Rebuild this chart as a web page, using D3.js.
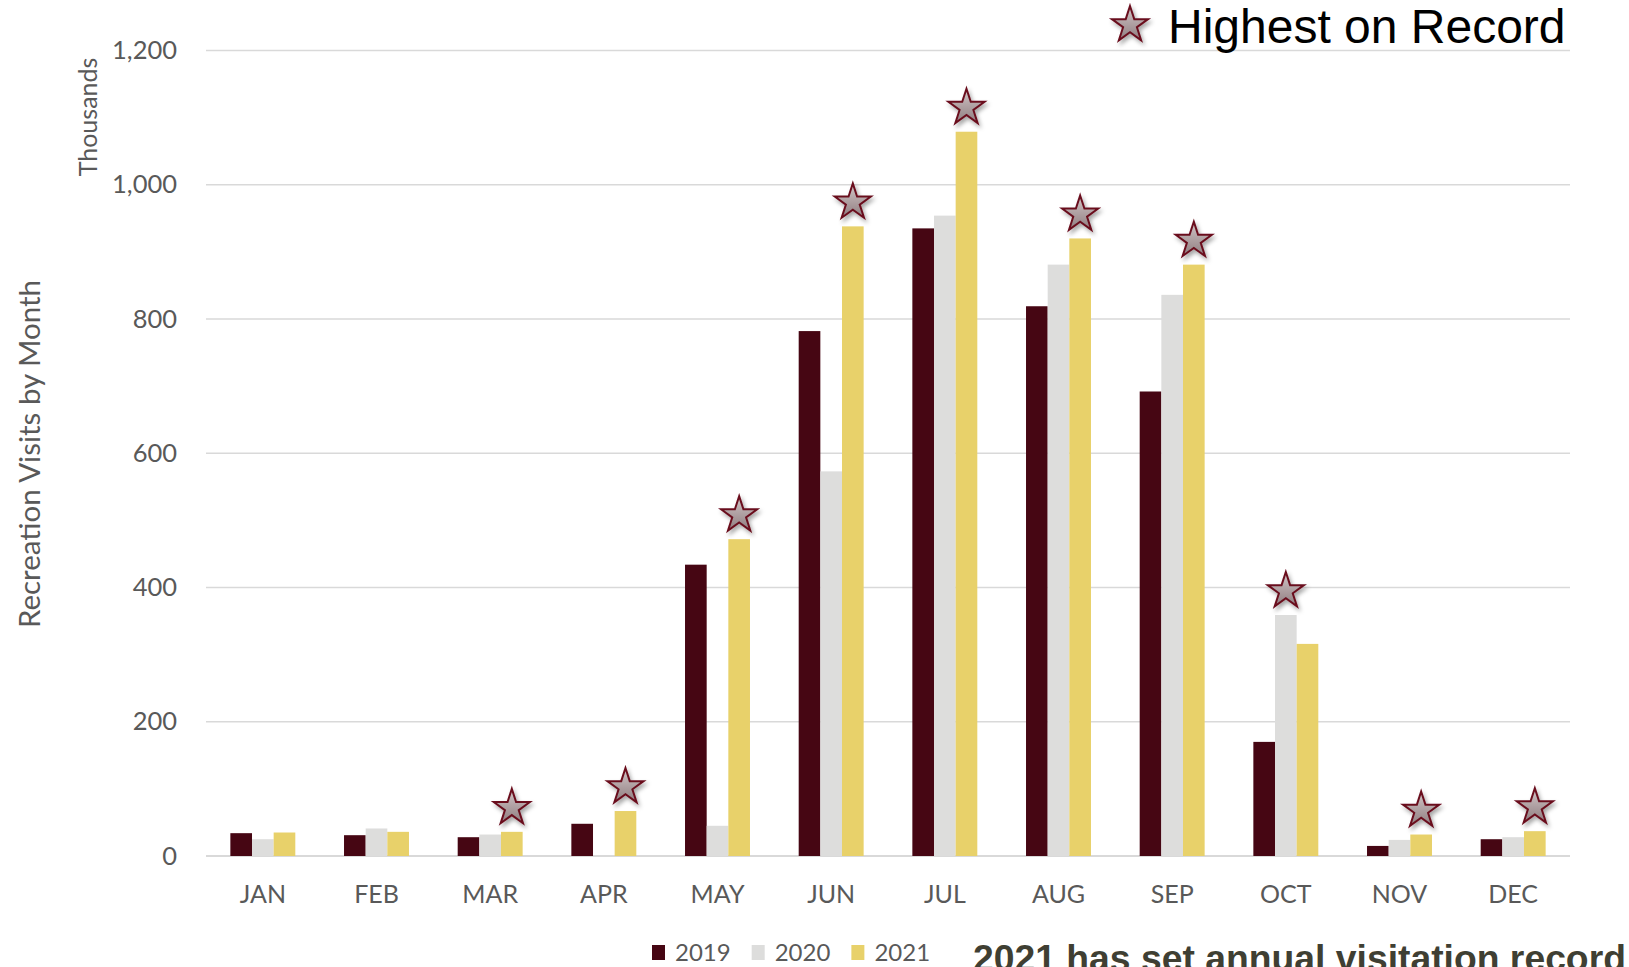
<!DOCTYPE html>
<html>
<head>
<meta charset="utf-8">
<script src="https://cdn.jsdelivr.net/npm/d3@7"></script>
<style>
  html, body { margin: 0; padding: 0; background: #ffffff; }
  svg { display: block; }
  text { font-family: Lato, "Open Sans", sans-serif; }
</style>
</head>
<body>
<svg id="chart" width="1629" height="967"></svg>
<script>
// Monthly recreation visits (thousands) for three years
const months = ["JAN", "FEB", "MAR", "APR", "MAY", "JUN", "JUL", "AUG", "SEP", "OCT", "NOV", "DEC"];
const years = ["2019", "2020", "2021"];
const visits2019 = [34, 31, 28, 48, 434, 782, 935, 819, 692, 170, 15, 25];
const visits2020 = [25, 41, 32, 0, 45, 573, 954, 881, 836, 359, 24, 28];
const visits2021 = [35, 36, 36, 67, 472, 938, 1079, 920, 881, 316, 32, 37];
// Year holding the all-time record for each month (null = no record star)
const recordYear = [null, null, "2021", "2021", "2021", "2021", "2021", "2021", "2021", "2020", "2021", "2021"];
const yTicks = [0, 200, 400, 600, 800, 1000, 1200];
const seriesColors = ["#460613", "#dddddc", "#e8d16a"];

const valuesByYear = { "2019": visits2019, "2020": visits2020, "2021": visits2021 };
const rows = months.map((m, i) => ({
  month: m,
  values: years.map(yr => ({ year: yr, value: valuesByYear[yr][i] })),
  record: recordYear[i]
}));

const svg = d3.select("#chart");
const plotLeft = 206, plotRight = 1570, plotTop = 50.5, plotBottom = 856;

const x0 = d3.scaleBand().domain(months).range([plotLeft, plotRight]).padding(0);
const step = x0.bandwidth();
const groupW = step / 1.75; // 75% gap between groups
const x1 = d3.scaleBand().domain(years).range([(step - groupW) / 2, (step + groupW) / 2]).padding(0);
const y = d3.scaleLinear().domain([0, 1200]).range([plotBottom, plotTop]);
const color = d3.scaleOrdinal().domain(years).range(seriesColors);

// Star styling: soft gradient fill, maroon outline, drop shadow
const defs = svg.append("defs");
const grad = defs.append("linearGradient").attr("id", "starFill")
  .attr("x1", 0).attr("y1", 0).attr("x2", 0).attr("y2", 1);
grad.append("stop").attr("offset", "0%").attr("stop-color", "#d2c6c7");
grad.append("stop").attr("offset", "100%").attr("stop-color", "#8f7d80");
const shadow = defs.append("filter").attr("id", "starShadow")
  .attr("x", "-50%").attr("y", "-50%").attr("width", "200%").attr("height", "200%");
shadow.append("feDropShadow").attr("dx", 2).attr("dy", 3).attr("stdDeviation", 2.2)
  .attr("flood-color", "#000").attr("flood-opacity", 0.35);

const starR = 19;
const starPath = d3.symbol().type(d3.symbolStar).size(starR * starR / 0.8908130915292852)();

// Gridlines
svg.append("g").selectAll("line").data(yTicks).join("line")
  .attr("x1", plotLeft).attr("x2", plotRight)
  .attr("y1", d => y(d)).attr("y2", d => y(d))
  .attr("stroke", "#d9d9d9").attr("stroke-width", d => d === 0 ? 2 : 1.5);

// Y axis tick labels
const yAxis = d3.axisLeft(y).tickValues(yTicks).tickFormat(d3.format(",")).tickSize(0).tickPadding(0);
const yG = svg.append("g").attr("transform", `translate(${plotLeft - 29},0)`).call(yAxis);
yG.select(".domain").remove();
yG.selectAll("text").attr("fill", "#595959").style("font-size", "25.5px").style("font-family", "Lato, sans-serif");

// X axis labels
const xAxis = d3.axisBottom(x0).tickSize(0).tickPadding(0);
const xG = svg.append("g").attr("transform", `translate(0,${plotBottom + 29})`).call(xAxis);
xG.select(".domain").remove();
xG.selectAll("text").attr("fill", "#595959").style("font-size", "25px").style("font-family", "Lato, sans-serif");

// Bars
const groups = svg.append("g").selectAll("g").data(rows).join("g")
  .attr("transform", d => `translate(${x0(d.month)},0)`);
groups.selectAll("rect").data(d => d.values).join("rect")
  .attr("x", d => x1(d.year))
  .attr("width", x1.bandwidth())
  .attr("y", d => y(d.value))
  .attr("height", d => y(0) - y(d.value))
  .attr("fill", d => color(d.year));

// Record stars above the record-setting bar
svg.append("g").selectAll("path").data(rows.filter(d => d.record)).join("path")
  .attr("d", starPath)
  .attr("transform", d => {
    const v = d.values.find(s => s.year === d.record).value;
    return `translate(${x0(d.month) + x1(d.record) + x1.bandwidth() / 2},${y(v) - 24})`;
  })
  .attr("fill", "url(#starFill)").attr("stroke", "#6a0f1f").attr("stroke-width", 2)
  .attr("filter", "url(#starShadow)");

// Axis titles
svg.append("text")
  .attr("transform", "translate(40,454) rotate(-90)")
  .attr("text-anchor", "middle")
  .attr("fill", "#595959").style("font-size", "29.5px")
  .text("Recreation Visits by Month");
svg.append("text")
  .attr("transform", "translate(97,117) rotate(-90)")
  .attr("text-anchor", "middle")
  .attr("fill", "#595959").style("font-size", "25px")
  .text("Thousands");

// Star key, top right
svg.append("path").attr("d", starPath)
  .attr("transform", "translate(1130,25)")
  .attr("fill", "url(#starFill)").attr("stroke", "#6a0f1f").attr("stroke-width", 2)
  .attr("filter", "url(#starShadow)");
svg.append("text")
  .attr("x", 1168).attr("y", 43)
  .attr("fill", "#000").style("font-family", "'Liberation Sans', Arial, sans-serif").style("font-size", "48px")
  .text("Highest on Record");

// Series legend, bottom
const legend = svg.append("g").attr("transform", "translate(652,945)");
let lx = 0;
years.forEach(yr => {
  const item = legend.append("g").attr("transform", `translate(${lx},0)`);
  item.append("rect").attr("width", 13).attr("height", 15).attr("fill", color(yr));
  const t = item.append("text").attr("x", 23).attr("y", 15.5)
    .attr("fill", "#595959").style("font-size", "24px").text(yr);
  lx += 23 + t.node().getComputedTextLength() + 21;
});

// Footnote
svg.append("text")
  .attr("x", 973).attr("y", 971)
  .attr("fill", "#3f3f33").style("font-family", "'Liberation Sans', Arial, sans-serif")
  .style("font-weight", "bold").style("font-size", "37.3px")
  .text("2021 has set annual visitation record");
</script>
</body>
</html>
